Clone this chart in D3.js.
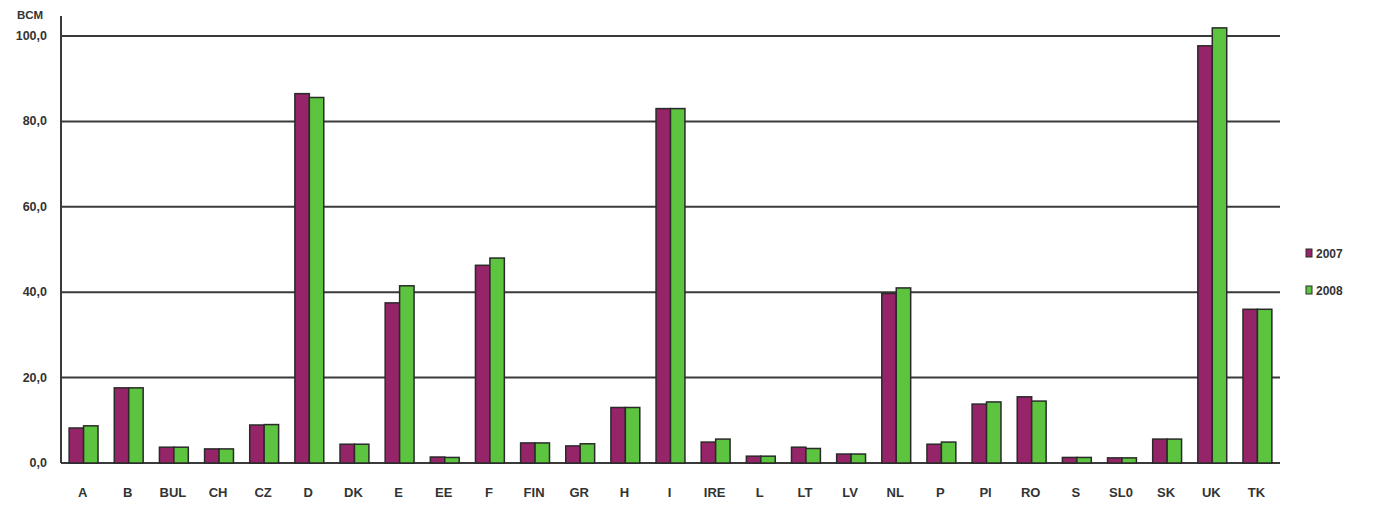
<!DOCTYPE html>
<html>
<head>
<meta charset="utf-8">
<script src="https://cdn.jsdelivr.net/npm/d3@7"></script>
<style>
  body { margin: 0; background: #fff; }
  svg text { font-family: "Liberation Sans", Arial, sans-serif; font-weight: bold; fill: #333; }
</style>
</head>
<body>
<div id="chart"></div>
<script>
const categories = ["A", "B", "BUL", "CH", "CZ", "D", "DK", "E", "EE", "F", "FIN", "GR", "H", "I", "IRE", "L", "LT", "LV", "NL", "P", "Pl", "RO", "S", "SL0", "SK", "UK", "TK"];
const values2007 = [8.2, 17.6, 3.7, 3.3, 8.9, 86.5, 4.4, 37.5, 1.4, 46.3, 4.7, 4.0, 13.0, 83.0, 4.9, 1.6, 3.7, 2.1, 39.7, 4.4, 13.8, 15.5, 1.3, 1.2, 5.6, 97.7, 36.0];
const values2008 = [8.7, 17.6, 3.7, 3.3, 9.0, 85.6, 4.4, 41.5, 1.3, 48.0, 4.7, 4.5, 13.0, 83.0, 5.6, 1.6, 3.4, 2.1, 41.0, 4.9, 14.3, 14.5, 1.3, 1.2, 5.6, 101.9, 36.0];
const seriesNames = ["2007", "2008"];
const yTicks = [0, 20, 40, 60, 80, 100];

const colors = ["#962468", "#5cc43e"];
const width = 1373, height = 508;
const margin = {top: 15, right: 93, bottom: 45, left: 61};

const svg = d3.select("#chart").append("svg")
  .attr("width", width)
  .attr("height", height);

let x = d3.scaleBand()
  .domain(categories)
  .range([margin.left, width - margin.right])
  .paddingInner(0.36)
  .paddingOuter(0.18);

let y = d3.scaleLinear()
  .domain([0, 100])
  .range([height - margin.bottom, 36]);

let xSub = d3.scaleBand()
  .domain(seriesNames)
  .range([0, x.bandwidth()]);

// gridlines
svg.append("g")
  .selectAll("line")
  .data(yTicks)
  .enter().append("line")
  .attr("x1", margin.left)
  .attr("x2", width - margin.right)
  .attr("y1", d => y(d))
  .attr("y2", d => y(d))
  .attr("stroke", "#3a3a3a")
  .attr("stroke-width", 2);

// y axis line
svg.append("line")
  .attr("x1", margin.left).attr("x2", margin.left)
  .attr("y1", 16).attr("y2", y(0))
  .attr("stroke", "#3a3a3a")
  .attr("stroke-width", 2);

// y tick labels
svg.append("g")
  .selectAll("text")
  .data(yTicks)
  .enter().append("text")
  .attr("x", 47)
  .attr("y", d => y(d) + 4)
  .attr("text-anchor", "end")
  .style("font-size", "12.5px")
  .text(d => d3.format(".1f")(d).replace(".", ","));

svg.append("text")
  .attr("x", 17)
  .attr("y", 19)
  .style("font-size", "11.5px")
  .text("BCM");

// bars
const rows = categories.map((c, i) => ({cat: c, vals: [values2007[i], values2008[i]]}));

let groups = svg.append("g")
  .selectAll("g")
  .data(rows)
  .enter().append("g")
  .attr("transform", d => `translate(${x(d.cat)},0)`);

groups.selectAll("rect")
  .data(d => d.vals.map((v, k) => ({name: seriesNames[k], v: v, k: k})))
  .enter().append("rect")
  .attr("x", d => xSub(d.name))
  .attr("width", xSub.bandwidth())
  .attr("y", d => y(d.v))
  .attr("height", d => y(0) - y(d.v))
  .attr("fill", d => colors[d.k])
  .attr("stroke", "#2a2a2a")
  .attr("stroke-width", 1.5);

// x labels
svg.append("g")
  .selectAll("text")
  .data(categories)
  .enter().append("text")
  .attr("x", d => x(d) + x.bandwidth() / 2 - 1)
  .attr("y", 497)
  .attr("text-anchor", "middle")
  .style("font-size", "13px")
  .text(d => d);

// legend
let legend = svg.append("g")
  .selectAll("g")
  .data(seriesNames)
  .enter().append("g")
  .attr("transform", (d, i) => `translate(1306,${249 + i * 37})`);

legend.append("rect")
  .attr("width", 6)
  .attr("height", 8)
  .attr("fill", (d, i) => colors[i])
  .attr("stroke", "#2a2a2a")
  .attr("stroke-width", 1);

legend.append("text")
  .attr("x", 10)
  .attr("y", 9)
  .style("font-size", "12px")
  .text(d => d);
</script>
</body>
</html>
